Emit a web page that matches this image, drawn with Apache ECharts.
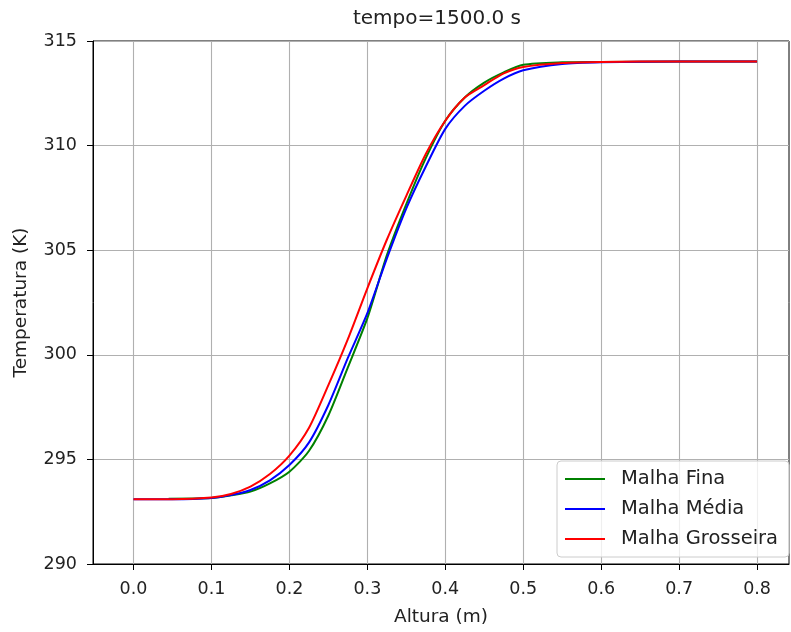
<!DOCTYPE html>
<html>
<head>
<meta charset="utf-8">
<script src="https://cdn.jsdelivr.net/npm/echarts@6/dist/echarts.min.js"></script>
<style>html,body{margin:0;padding:0;background:#fff}#c{width:791px;height:632px}</style>
</head>
<body>
<div id="c"></div>
<script>
const xFina = [0.045, 0.1, 0.125, 0.15, 0.175, 0.2, 0.225, 0.25, 0.275, 0.3, 0.325, 0.35, 0.375, 0.4, 0.425, 0.45, 0.475, 0.5, 0.55, 0.6, 0.7, 0.8];
const tFina = [293.12, 293.15, 293.28, 293.46, 293.85, 294.41, 295.4, 297.1, 299.4, 301.75, 304.75, 307.2, 309.4, 311.19, 312.3, 313.01, 313.5, 313.86, 313.98, 314.0, 314.02, 314.02];
const xMedia = [0.0, 0.05, 0.1, 0.125, 0.15, 0.175, 0.2, 0.225, 0.25, 0.275, 0.3, 0.325, 0.35, 0.375, 0.4, 0.425, 0.45, 0.475, 0.5, 0.55, 0.6, 0.7, 0.8];
const tMedia = [293.1, 293.1, 293.16, 293.3, 293.54, 294.0, 294.73, 295.8, 297.6, 299.85, 301.99, 304.6, 307.0, 309.0, 310.8, 311.9, 312.62, 313.2, 313.6, 313.9, 313.98, 314.02, 314.02];
const xGrosseira = [0.0, 0.05, 0.1, 0.125, 0.15, 0.175, 0.2, 0.225, 0.25, 0.275, 0.3, 0.325, 0.35, 0.375, 0.4, 0.425, 0.45, 0.475, 0.5, 0.55, 0.6, 0.7, 0.8];
const tGrosseira = [293.1, 293.1, 293.18, 293.35, 293.7, 294.3, 295.18, 296.5, 298.55, 300.75, 303.18, 305.5, 307.6, 309.6, 311.19, 312.3, 312.89, 313.45, 313.76, 313.95, 314.0, 314.02, 314.02];
const xTicks = [0.0, 0.1, 0.2, 0.3, 0.4, 0.5, 0.6, 0.7, 0.8];
const seriesNames = ['Malha Fina', 'Malha Média', 'Malha Grosseira'];

const zip = (xs, ys) => xs.map((x, i) => [x, ys[i]]);
const font = 'DejaVu Sans';
const txt = '#222';
const chart = echarts.init(document.getElementById('c'), null, {renderer: 'canvas'});
const mkSeries = (name, xs, ys, color) => ({
  name, type: 'line', data: zip(xs, ys), symbol: 'none', smooth: 0.25,
  lineStyle: {color, width: 2}, itemStyle: {color}, animation: false
});
chart.setOption({
  animation: false,
  textStyle: {fontFamily: font},
  title: {text: 'tempo=1500.0 s', left: 432, textAlign: 'center', top: 4,
    textStyle: {fontFamily: font, fontSize: 20, fontWeight: 'normal', color: txt}},
  grid: {left: 93, right: 2, top: 41, bottom: 67, show: true, borderColor: '#000', borderWidth: 1},
  legend: {
    orient: 'vertical', left: 557, top: 461,
    itemWidth: 40, itemHeight: 14, itemGap: 10,
    icon: 'path://M0,0H40V2H0Z', symbolKeepAspect: true,
    padding: [8, 11, 8, 8],
    backgroundColor: 'rgba(255,255,255,0.8)', borderColor: '#cccccc', borderWidth: 1, borderRadius: 4,
    textStyle: {fontFamily: font, fontSize: 19.5, lineHeight: 19.5, color: txt, padding: [0, 0, 0, 11]},
    data: seriesNames
  },
  xAxis: {
    type: 'value', min: -0.052, max: 0.841,
    name: 'Altura (m)', nameLocation: 'middle', nameGap: 44,
    nameTextStyle: {fontFamily: font, fontSize: 18.5, color: txt},
    axisLine: {show: true, onZero: false, lineStyle: {color: '#000', width: 1}},
    axisTick: {show: true, length: 6, customValues: xTicks, lineStyle: {color: '#000'}},
    axisLabel: {customValues: xTicks, fontFamily: font, fontSize: 17.5, color: txt, margin: 16,
      formatter: v => v.toFixed(1)},
    splitLine: {show: true, lineStyle: {color: '#b0b0b0', width: 1.1}}
  },
  yAxis: {
    type: 'value', min: 290, max: 315, interval: 5,
    name: 'Temperatura (K)', nameLocation: 'middle', nameGap: 62,
    nameTextStyle: {fontFamily: font, fontSize: 18.5, color: txt},
    axisLine: {show: true, onZero: false, lineStyle: {color: '#000', width: 1}},
    axisTick: {show: true, length: 6, lineStyle: {color: '#000'}},
    axisLabel: {fontFamily: font, fontSize: 17.5, color: txt, margin: 16},
    splitLine: {show: true, lineStyle: {color: '#b0b0b0', width: 1.1}}
  },
  series: [
    mkSeries(seriesNames[0], xFina, tFina, '#008000'),
    mkSeries(seriesNames[1], xMedia, tMedia, '#0000ff'),
    mkSeries(seriesNames[2], xGrosseira, tGrosseira, '#ff0000')
  ]
});
</script>
</body>
</html>
